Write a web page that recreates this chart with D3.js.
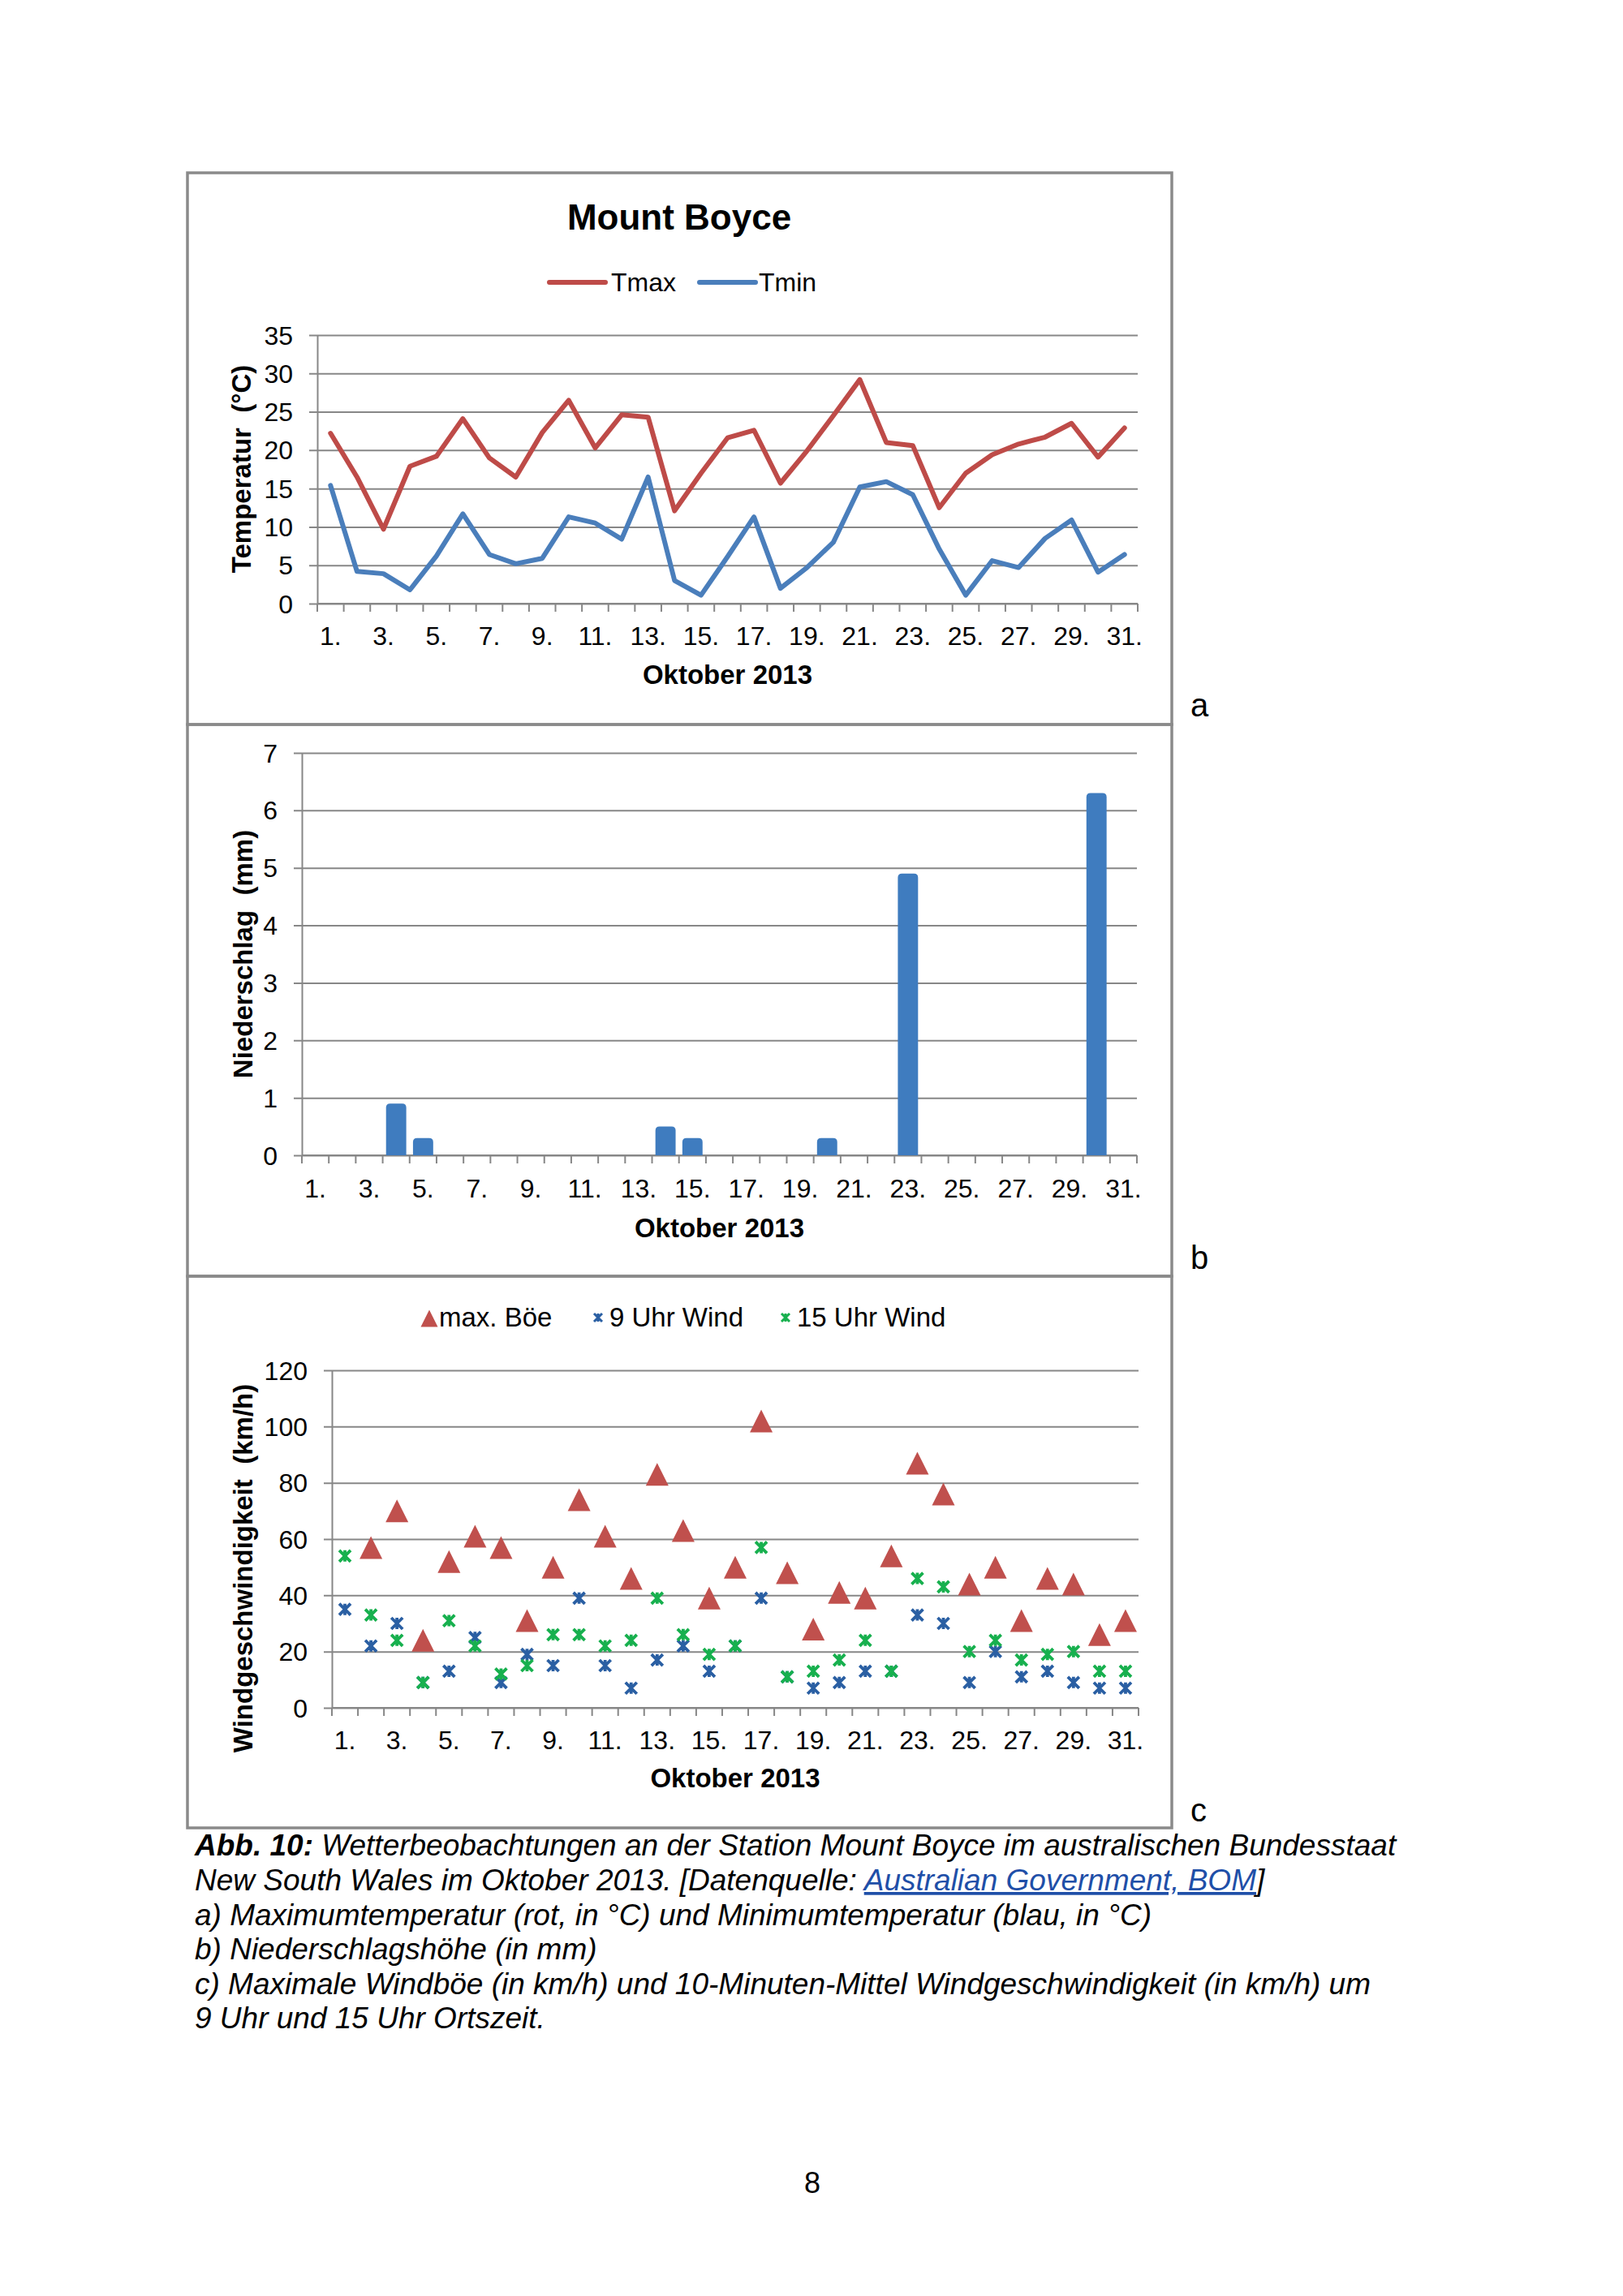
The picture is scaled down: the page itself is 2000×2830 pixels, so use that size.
<!DOCTYPE html>
<html><head><meta charset="utf-8">
<script src="https://cdnjs.cloudflare.com/ajax/libs/d3/7.8.5/d3.min.js"></script>
<style>
html,body{margin:0;padding:0;background:#fff;}
svg{display:block;}
</style></head>
<body>
<script>
// ---------- DATA ----------
const categories = ["1.","2.","3.","4.","5.","6.","7.","8.","9.","10.","11.","12.","13.","14.","15.","16.","17.","18.","19.","20.","21.","22.","23.","24.","25.","26.","27.","28.","29.","30.","31."];
const xTickLabels = ["1.","3.","5.","7.","9.","11.","13.","15.","17.","19.","21.","23.","25.","27.","29.","31."];

const tmax = [22.2,16.5,9.7,17.9,19.2,24.1,19.0,16.5,22.3,26.5,20.3,24.6,24.3,12.1,17.0,21.6,22.6,15.7,19.9,24.5,29.2,21.0,20.6,12.5,17.0,19.4,20.8,21.7,23.5,19.1,22.9];
const tmin = [15.4,4.2,3.9,1.8,6.2,11.7,6.4,5.2,5.9,11.3,10.5,8.4,16.5,3.0,1.1,6.1,11.3,2.0,4.7,8.0,15.2,15.9,14.2,7.1,1.1,5.6,4.7,8.5,10.9,4.1,6.4];
const tempTicks = [0,5,10,15,20,25,30,35];

const rain = [0,0,0,0.9,0.3,0,0,0,0,0,0,0,0,0.5,0.3,0,0,0,0,0.3,0,0,4.9,0,0,0,0,0,0,6.3,0];
const rainTicks = [0,1,2,3,4,5,6,7];

const gust   = [null,57,70,24,52,61,57,31,50,74,61,46,83,63,39,50,102,48,28,41,39,54,87,76,44,50,31,46,44,26,31];
const wind9  = [35,22,30,9,13,25,9,19,15,39,15,7,17,22,13,22,39,11,7,9,13,13,33,30,9,20,11,13,9,7,7];
const wind15 = [54,33,24,9,31,22,12,15,26,26,22,24,39,26,19,22,57,11,13,17,24,13,46,43,20,24,17,19,20,13,13];
const windTicks = [0,20,40,60,80,100,120];

const chartTitle = "Mount Boyce";
const xTitle = "Oktober 2013";
const seriesNamesA = ["Tmax","Tmin"];
const seriesNamesC = ["max. Böe","9 Uhr Wind","15 Uhr Wind"];
const yTitles = ["Temperatur  (°C)","Niederschlag  (mm)","Windgeschwindigkeit  (km/h)"];
const panelLetters = ["a","b","c"];

// ---------- STYLE ----------
const FONT = "'Liberation Sans', Arial, Helvetica, sans-serif";
const GRID = "#878787";
const RED = "#BE4B48", BLUE = "#4A7EBB", BAR = "#3F7CBF";
const X9 = "#2A5FA3", X15 = "#17B04E";

const svg = d3.select("body").append("svg").attr("width",2000).attr("height",2830)
  .attr("font-family",FONT);
svg.append("rect").attr("width",2000).attr("height",2830).attr("fill","#fff");

// frames
const frames = [[213,893],[893,1573],[1573,2253]];
frames.forEach(f=>{
  svg.append("rect").attr("x",231).attr("y",f[0]).attr("width",1213).attr("height",f[1]-f[0])
    .attr("fill","none").attr("stroke","#8a8a8a").attr("stroke-width",3.5);
});

function panel(cfg){
  const g = svg.append("g");
  const x = d3.scaleBand().domain(categories).range([cfg.left,cfg.right]).padding(0);
  const y = d3.scaleLinear().domain(cfg.domain).range([cfg.bottom,cfg.top]);
  const w = cfg.right-cfg.left;
  // gridlines + y ticks
  g.append("g").attr("transform",`translate(${cfg.left},0)`)
    .call(d3.axisLeft(y).tickValues(cfg.ticks).tickSizeInner(-w).tickSizeOuter(0).tickFormat(""))
    .call(s=>{s.selectAll("text").remove(); s.selectAll("line").attr("stroke",GRID).attr("stroke-width",2).attr("x1",-10);
              s.select(".domain").attr("stroke",GRID).attr("stroke-width",2);});
  // y labels
  g.selectAll(".yl").data(cfg.ticks).join("text")
    .attr("x",cfg.left-30).attr("y",d=>y(d)).attr("dy","0.36em")
    .attr("text-anchor","end").attr("font-size",32).attr("fill","#000").text(d=>String(d));
  // x axis line
  g.append("line").attr("x1",cfg.left).attr("x2",cfg.right).attr("y1",cfg.bottom).attr("y2",cfg.bottom)
    .attr("stroke",GRID).attr("stroke-width",2);
  // boundary ticks
  const bounds = categories.map(c=>x(c)).concat([cfg.right]);
  g.selectAll(".bt").data(bounds).join("line")
    .attr("x1",d=>d).attr("x2",d=>d).attr("y1",cfg.bottom).attr("y2",cfg.bottom+10)
    .attr("stroke",GRID).attr("stroke-width",2);
  // x labels
  g.selectAll(".xl").data(xTickLabels).join("text")
    .attr("x",d=>x(d)+x.bandwidth()/2).attr("y",cfg.xLabelY)
    .attr("text-anchor","middle").attr("font-size",32).text(d=>d);
  // x title
  g.append("text").attr("x",(cfg.left+cfg.right)/2).attr("y",cfg.xTitleY)
    .attr("text-anchor","middle").attr("font-size",33).attr("font-weight","bold").text(xTitle);
  // y title
  g.append("text").attr("transform",`translate(${cfg.yTitleX},${cfg.yTitleY}) rotate(-90)`)
    .attr("text-anchor","middle").attr("font-size",33).attr("font-weight","bold")
    .attr("dy","0.35em").attr("xml:space","preserve").text(cfg.yTitle);
  // panel letter
  svg.append("text").attr("x",1467).attr("y",cfg.letterY).attr("font-size",40).text(cfg.letter);
  return {g,x,y};
}

// ---------- PANEL A ----------
const A = panel({left:391,right:1402,top:413,bottom:744,domain:[0,35],ticks:tempTicks,
  xLabelY:795,xTitleY:843,yTitleX:297,yTitleY:578,yTitle:yTitles[0],letter:panelLetters[0],letterY:883});
const cx = (sc,c)=>sc(c)+sc.bandwidth()/2;
const lineGen = vals => d3.line().x((d,i)=>cx(A.x,categories[i])).y(d=>A.y(d))(vals);
A.g.append("path").attr("d",lineGen(tmax)).attr("fill","none").attr("stroke",RED)
  .attr("stroke-width",6).attr("stroke-linejoin","round").attr("stroke-linecap","round");
A.g.append("path").attr("d",lineGen(tmin)).attr("fill","none").attr("stroke",BLUE)
  .attr("stroke-width",6).attr("stroke-linejoin","round").attr("stroke-linecap","round");
svg.append("text").attr("x",837).attr("y",283).attr("text-anchor","middle")
  .attr("font-size",44).attr("font-weight","bold").text(chartTitle);
const legA = [{x1:677,x2:746,tx:753,c:RED,t:seriesNamesA[0]},{x1:862,x2:931,tx:935,c:BLUE,t:seriesNamesA[1]}];
legA.forEach(l=>{
  svg.append("line").attr("x1",l.x1).attr("x2",l.x2).attr("y1",348).attr("y2",348)
    .attr("stroke",l.c).attr("stroke-width",6).attr("stroke-linecap","round");
  svg.append("text").attr("x",l.tx).attr("y",359).attr("font-size",32).text(l.t);
});

// ---------- PANEL B ----------
const B = panel({left:372,right:1401,top:928,bottom:1424,domain:[0,7],ticks:rainTicks,
  xLabelY:1476,xTitleY:1525,yTitleX:299,yTitleY:1176,yTitle:yTitles[1],letter:panelLetters[1],letterY:1564});
const bw = B.x.bandwidth()*0.75;
function roundTopBar(x0,y0,w,h,r){
  r = Math.min(r,h,w/2);
  return `M${x0},${y0+h} L${x0},${y0+r} Q${x0},${y0} ${x0+r},${y0} L${x0+w-r},${y0} Q${x0+w},${y0} ${x0+w},${y0+r} L${x0+w},${y0+h} Z`;
}
B.g.selectAll(".bar").data(rain.map((v,i)=>({v,c:categories[i]})).filter(d=>d.v>0)).join("path")
  .attr("d",d=>{
    const x0 = cx(B.x,d.c)-bw/2, yt = B.y(d.v);
    return roundTopBar(x0,yt,bw,B.y(0)-yt,5);
  }).attr("fill",BAR);

// ---------- PANEL C ----------
const C = panel({left:409,right:1403,top:1689,bottom:2105,domain:[0,120],ticks:windTicks,
  xLabelY:2156,xTitleY:2203,yTitleX:299,yTitleY:1933,yTitle:yTitles[2],letter:panelLetters[2],letterY:2245});
const tri = s => `M0,${-s/2} L${s/2},${s/2} L${-s/2},${s/2} Z`;
const star = s => {const h=s/2; return `M${-h},${-h} L${h},${h} M${h},${-h} L${-h},${h} M0,${-h} L0,${h}`;};
C.g.selectAll(".g1").data(gust.map((v,i)=>({v,c:categories[i]})).filter(d=>d.v!==null)).join("path")
  .attr("transform",d=>`translate(${cx(C.x,d.c)},${C.y(d.v)})`).attr("d",tri(28)).attr("fill","#C0504D");
C.g.selectAll(".g2").data(wind9.map((v,i)=>({v,c:categories[i]}))).join("path")
  .attr("transform",d=>`translate(${cx(C.x,d.c)},${C.y(d.v)})`).attr("d",star(14))
  .attr("fill","none").attr("stroke",X9).attr("stroke-width",3.8);
C.g.selectAll(".g3").data(wind15.map((v,i)=>({v,c:categories[i]}))).join("path")
  .attr("transform",d=>`translate(${cx(C.x,d.c)},${C.y(d.v)})`).attr("d",star(14))
  .attr("fill","none").attr("stroke",X15).attr("stroke-width",3.8);
// legend C
svg.append("path").attr("transform","translate(529,1625)").attr("d",tri(21)).attr("fill","#C0504D");
svg.append("text").attr("x",541).attr("y",1635).attr("font-size",33).text(seriesNamesC[0]);
svg.append("path").attr("transform","translate(737,1624)").attr("d",star(10)).attr("fill","none").attr("stroke",X9).attr("stroke-width",3);
svg.append("text").attr("x",751).attr("y",1635).attr("font-size",33).text(seriesNamesC[1]);
svg.append("path").attr("transform","translate(968,1624)").attr("d",star(10)).attr("fill","none").attr("stroke",X15).attr("stroke-width",3);
svg.append("text").attr("x",982).attr("y",1635).attr("font-size",33).text(seriesNamesC[2]);

// ---------- CAPTION ----------
const cap = svg.append("g").attr("font-size",37).attr("font-style","italic");
const l1 = cap.append("text").attr("x",240).attr("y",2287);
l1.append("tspan").attr("font-weight","bold").text("Abb. 10:");
l1.append("tspan").text(" Wetterbeobachtungen an der Station Mount Boyce im australischen Bundesstaat");
const l2 = cap.append("text").attr("x",240).attr("y",2330);
l2.append("tspan").text("New South Wales im Oktober 2013. [Datenquelle: ");
l2.append("tspan").attr("fill","#1F4FA8").attr("text-decoration","underline").text("Australian Government, BOM");
l2.append("tspan").text("]");
const capLines = ["a) Maximumtemperatur (rot, in °C) und Minimumtemperatur (blau, in °C)",
  "b) Niederschlagshöhe (in mm)",
  "c) Maximale Windböe (in km/h) und 10-Minuten-Mittel Windgeschwindigkeit (in km/h) um",
  "9 Uhr und 15 Uhr Ortszeit."];
const capY = [2373,2415,2458,2500];
capLines.forEach((t,i)=>cap.append("text").attr("x",240).attr("y",capY[i]).text(t));

svg.append("text").attr("x",1001).attr("y",2703).attr("text-anchor","middle").attr("font-size",36).text("8");
</script>
</body></html>
